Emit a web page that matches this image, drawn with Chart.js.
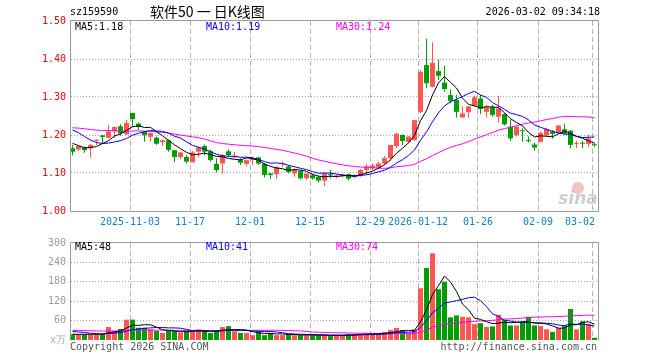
<!DOCTYPE html>
<html><head><meta charset="utf-8">
<script src="https://cdn.jsdelivr.net/npm/chart.js@4/dist/chart.umd.min.js"></script>
<style>
html,body{margin:0;padding:0;background:#fff;}
#wrap{position:relative;width:660px;height:360px;overflow:hidden;background:#fff;}
#c1{position:absolute;left:0;top:0;}
#c2{position:absolute;left:0;top:232px;}
</style></head><body>
<div id="wrap">
<canvas id="c1" width="660" height="232"></canvas>
<canvas id="c2" width="660" height="128"></canvas>
</div>
<script>
// ---- data ----
const opens  = [1.165,1.162,1.168,1.165,1.185,1.199,1.193,1.209,1.223,1.202,1.258,1.230,1.209,1.195,1.193,1.181,1.186,1.160,1.142,1.142,1.128,1.156,1.171,1.157,1.124,1.125,1.157,1.141,1.134,1.124,1.134,1.141,1.124,1.099,1.097,1.124,1.117,1.099,1.105,1.086,1.094,1.090,1.080,1.095,1.091,1.092,1.097,1.089,1.094,1.108,1.112,1.115,1.125,1.139,1.171,1.200,1.182,1.187,1.261,1.384,1.327,1.368,1.338,1.305,1.292,1.246,1.260,1.277,1.296,1.261,1.273,1.248,1.255,1.222,1.200,1.211,1.185,1.175,1.182,1.200,1.209,1.207,1.215,1.211,1.177,1.179,1.176,1.174];
const highs  = [1.174,1.174,1.170,1.176,1.189,1.200,1.226,1.222,1.228,1.240,1.258,1.233,1.210,1.207,1.196,1.188,1.188,1.160,1.156,1.147,1.158,1.170,1.175,1.162,1.139,1.150,1.162,1.156,1.139,1.136,1.143,1.143,1.126,1.100,1.118,1.130,1.121,1.112,1.108,1.099,1.099,1.092,1.101,1.108,1.097,1.099,1.099,1.097,1.110,1.124,1.125,1.129,1.145,1.174,1.206,1.202,1.197,1.240,1.371,1.453,1.444,1.399,1.382,1.320,1.305,1.275,1.276,1.303,1.305,1.279,1.279,1.303,1.257,1.241,1.224,1.218,1.196,1.180,1.209,1.220,1.213,1.226,1.229,1.213,1.184,1.184,1.200,1.178];
const lows   = [1.147,1.158,1.153,1.140,1.174,1.178,1.191,1.193,1.198,1.200,1.222,1.213,1.182,1.182,1.174,1.172,1.156,1.128,1.137,1.125,1.128,1.141,1.147,1.130,1.101,1.099,1.143,1.139,1.121,1.118,1.121,1.121,1.088,1.084,1.084,1.115,1.099,1.090,1.083,1.082,1.082,1.075,1.066,1.086,1.086,1.088,1.080,1.086,1.090,1.097,1.108,1.110,1.121,1.132,1.165,1.174,1.178,1.184,1.257,1.323,1.325,1.345,1.314,1.283,1.246,1.246,1.246,1.276,1.255,1.246,1.248,1.232,1.225,1.185,1.196,1.182,1.180,1.159,1.181,1.197,1.191,1.204,1.200,1.165,1.165,1.165,1.169,1.169];
const closes = [1.156,1.171,1.160,1.174,1.187,1.195,1.209,1.221,1.204,1.232,1.242,1.221,1.200,1.205,1.177,1.186,1.161,1.142,1.154,1.130,1.154,1.167,1.156,1.134,1.108,1.147,1.147,1.144,1.127,1.134,1.137,1.125,1.095,1.095,1.115,1.126,1.103,1.108,1.086,1.099,1.086,1.080,1.099,1.094,1.093,1.097,1.085,1.094,1.108,1.117,1.120,1.125,1.139,1.174,1.203,1.184,1.196,1.239,1.366,1.336,1.390,1.356,1.321,1.290,1.261,1.257,1.275,1.299,1.268,1.273,1.253,1.270,1.228,1.191,1.222,1.210,1.184,1.167,1.206,1.216,1.203,1.225,1.203,1.174,1.178,1.177,1.191,1.173];
const volumes = [18,18,18,18,18,20,40,28,34,63,63,38,38,33,28,22,28,28,23,28,28,33,28,22,28,40,43,27,22,22,15,27,15,22,15,15,18,15,15,15,15,15,15,12,15,15,18,18,20,20,18,20,25,31,37,31,20,32,160,223,268,157,180,70,76,72,70,49,52,40,42,78,62,45,45,55,72,45,43,33,25,37,45,96,33,58,50,7];
// estimated closes / volumes of the 29 sessions before the first visible one (needed for the moving averages)
const priorCloses = [1.20,1.21,1.23,1.24,1.22,1.21,1.23,1.25,1.24,1.22,1.21,1.22,1.23,1.22,1.21,1.22,1.23,1.22,1.21,1.22,1.24,1.26,1.27,1.25,1.22,1.20,1.19,1.17,1.174];
const priorVolumes = [30,35,28,40,32,30,25,28,35,38,30,27,33,30,29,34,31,32,30,33,40,35,38,34,33,20,18,17,17];
const tickIndex  = [10,20,30,40,50,58,68,78,87];
const tickLabels = ['2025-11-03','11-17','12-01','12-15','12-29','2026-01-12','01-26','02-09','03-02'];
const priceTicks  = [1.00,1.10,1.20,1.30,1.40,1.50];
const volumeTicks = [60,120,180,240,300];
const priceLegend  = ['MA5:1.18','MA10:1.19','MA30:1.24'];
const volumeLegend = ['MA5:48','MA10:41','MA30:74'];
const maPeriods = [5,10,30];

// ---- styling ----
const RED = '#ff5555', GREEN = '#009c00';
const MA_COLORS = ['#000000','#0000ff','#ff00ff'];
const MONO = '10px "DejaVu Sans Mono", monospace';
const N = closes.length;
const up = closes.map((c,i)=> c >= opens[i]);
const candleColors = up.map(u => u ? RED : GREEN);

function movingAvg(arr, prior, n){
  const all = prior.concat(arr);
  const off = prior.length;
  return arr.map((_,i)=>{ let s=0; for(let k=0;k<n;k++) s+=all[off+i-k]; return s/n; });
}
const gridVal = i => i - 5/12;

const frame = (bottomLine) => ({
  id:'frame',
  afterDraw(chart){
    const {ctx, chartArea:a} = chart;
    ctx.save(); ctx.strokeStyle='#9a9a9a'; ctx.lineWidth=1;
    ctx.beginPath();
    const L=Math.round(a.left)-0.5, R=Math.round(a.right)-0.5, T=Math.round(a.top)-0.5, B=Math.round(a.bottom)+0.5;
    if(bottomLine){ ctx.moveTo(L,B); ctx.lineTo(R,B); }
    ctx.moveTo(L,B); ctx.lineTo(L,T); ctx.lineTo(R,T); ctx.lineTo(R,B);
    ctx.stroke(); ctx.restore();
  }
});

function legend(ctx, items, y){
  const xs=[75,206,336];
  ctx.font = MONO; ctx.textBaseline='middle'; ctx.textAlign='left';
  items.forEach((t,k)=>{ ctx.fillStyle=MA_COLORS[k]; ctx.fillText(t, xs[k], y); });
}

const xScale = (h) => ({type:'linear', min:-0.25, max:N-0.25, offset:false,
  afterBuildTicks:s=>{ s.ticks = tickIndex.map(i=>({value:gridVal(i)})); },
  ticks:{display:false}, grid:{color:'#b4b4b4', lineWidth:1, drawTicks:false, offset:false},
  border:{display:false, dash:[5,3]}, afterFit:s=>{ s.height=h; }});

// ---------------- price chart ----------------
const priceSets = [];
maPeriods.forEach((p,k)=>{
  const ma = movingAvg(closes, priorCloses, p);
  priceSets.push({type:'line', data: ma.map((v,i)=>({x:i,y:v})), borderColor:MA_COLORS[k], borderWidth:1, pointRadius:0, tension:0, fill:false, order:0});
});
priceSets.push({type:'bar', data: closes.map((c,i)=>({x:i, y:[opens[i], c]})), backgroundColor:candleColors, barThickness:5, minBarLength:1, grouped:false, inflateAmount:0, borderWidth:0, order:1});
priceSets.push({type:'bar', data: closes.map((c,i)=>({x:i, y:[lows[i], highs[i]]})), backgroundColor:candleColors, barThickness:1, grouped:false, inflateAmount:0, borderWidth:0, order:2});

new Chart(document.getElementById('c1'), {
  type:'bar',
  data:{datasets: priceSets},
  options:{
    responsive:false, animation:false, devicePixelRatio:1,
    layout:{padding:{left:0,right:61,top:21,bottom:0}},
    plugins:{legend:{display:false}, tooltip:{enabled:false}},
    scales:{
      x: xScale(21),
      y:{min:1.0, max:1.5,
         afterBuildTicks:s=>{ s.ticks = priceTicks.map(v=>({value:v})); },
         ticks:{color:'#ff0000', font:{family:'DejaVu Sans Mono', size:10}, padding:5, callback:v=>Number(v).toFixed(2)},
         grid:{drawTicks:false, color:c=> (c.tick && c.tick.value>1.01 && c.tick.value<1.49) ? '#a8a8a8' : 'rgba(0,0,0,0)'},
         border:{display:false, dash:[1,2]}, afterFit:s=>{ s.width=71; }}
    }
  },
  plugins:[frame(true), {
    id:'texts',
    beforeDatasetsDraw(chart){
      const ctx=chart.ctx; ctx.save();
      ctx.fillStyle='rgba(232,150,150,0.55)';
      ctx.beginPath(); ctx.arc(578,188,6,0,Math.PI*2); ctx.fill();
      ctx.font='italic bold 17px "DejaVu Sans", sans-serif'; ctx.fillStyle='rgba(175,175,175,0.6)';
      ctx.textAlign='center'; ctx.textBaseline='middle'; ctx.fillText('sina', 578, 200);
      ctx.restore();
    },
    afterDraw(chart){
      const ctx=chart.ctx, xs=chart.scales.x; ctx.save();
      ctx.textBaseline='middle';
      ctx.font=MONO; ctx.fillStyle='#000'; ctx.textAlign='left';
      ctx.fillText('sz159590', 70, 12);
      ctx.font='14px "Noto Sans CJK SC", sans-serif';
      ctx.fillText('软件50 一 日K线图', 150, 12);
      ctx.font=MONO; ctx.textAlign='right';
      ctx.fillText('2026-03-02 09:34:18', 600, 12);
      legend(ctx, priceLegend, 27);
      ctx.fillStyle='#1580d0'; ctx.font=MONO;
      tickIndex.forEach((i,k)=>{
        const px = xs.getPixelForValue(gridVal(i));
        if(k===tickIndex.length-1){ ctx.textAlign='right'; ctx.fillText(tickLabels[k], px+3, 222); }
        else { ctx.textAlign='center'; ctx.fillText(tickLabels[k], px, 222); }
      });
      ctx.restore();
    }
  }]
});

// ---------------- volume chart ----------------
const volSets = [];
maPeriods.forEach((p,k)=>{
  const ma = movingAvg(volumes, priorVolumes, p);
  volSets.push({type:'line', data: ma.map((v,i)=>({x:i,y:v})), borderColor:MA_COLORS[k], borderWidth:1, pointRadius:0, tension:0, fill:false, order:0});
});
volSets.push({type:'bar', data: volumes.map((v,i)=>({x:i,y:v})), backgroundColor:candleColors, barThickness:5, grouped:false, inflateAmount:0, borderWidth:0, order:1});

new Chart(document.getElementById('c2'), {
  type:'bar',
  data:{datasets: volSets},
  options:{
    responsive:false, animation:false, devicePixelRatio:1,
    layout:{padding:{left:0,right:61,top:8,bottom:20}},
    plugins:{legend:{display:false}, tooltip:{enabled:false}},
    scales:{
      x: xScale(0),
      y:{min:0, max:300,
         afterBuildTicks:s=>{ s.ticks = volumeTicks.map(v=>({value:v})); },
         ticks:{color:'#999999', font:{family:'DejaVu Sans Mono', size:10}, padding:5},
         grid:{drawTicks:false, color:c=> (c.tick && c.tick.value<290) ? '#a8a8a8' : 'rgba(0,0,0,0)'},
         border:{display:false, dash:[1,2]}, afterFit:s=>{ s.width=71; }}
    }
  },
  plugins:[frame(false), {
    id:'vtexts',
    afterDraw(chart){
      const ctx=chart.ctx; ctx.save();
      legend(ctx, volumeLegend, 15);
      ctx.font=MONO; ctx.textBaseline='middle';
      ctx.fillStyle='#aaaaaa'; ctx.textAlign='right'; ctx.fillText('x万', 66, 108);
      ctx.fillStyle='#555555'; ctx.textAlign='left'; ctx.fillText('Copyright 2026 SINA.COM', 70, 115);
      ctx.textAlign='right'; ctx.fillText('http://finance.sina.com.cn', 597, 115);
      ctx.restore();
    }
  }]
});
</script>
</body></html>
